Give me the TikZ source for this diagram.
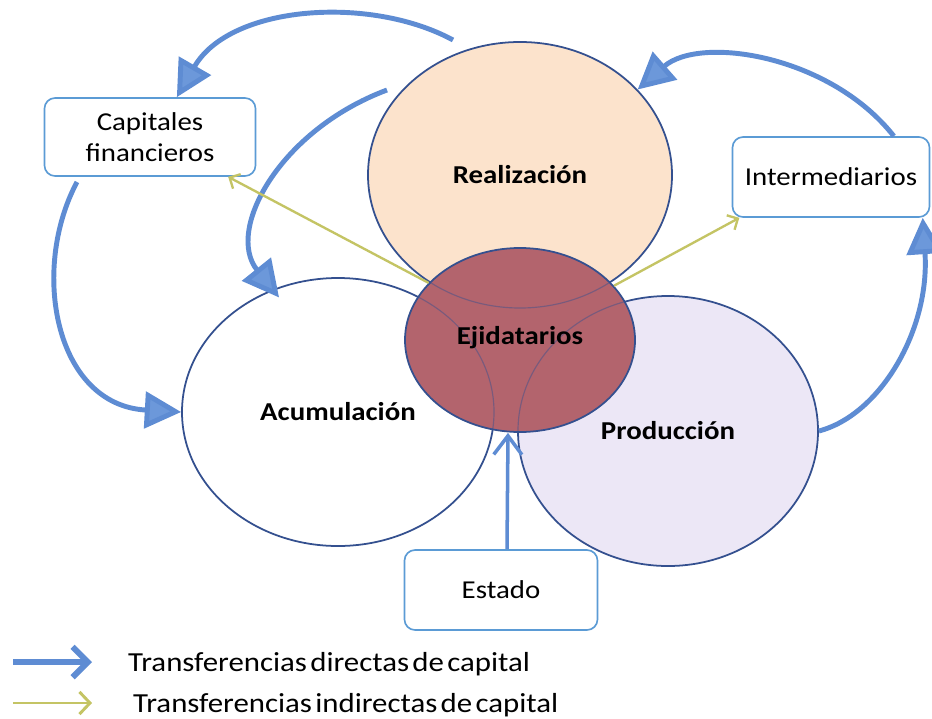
\documentclass[tikz,border=0pt]{standalone}
\usepackage{fontspec}
\setmainfont{Carlito}[FakeStretch=1.12]
\usetikzlibrary{shapes.geometric,arrows.meta}
\definecolor{cborder}{HTML}{34508F}
\definecolor{creal}{HTML}{FCE3CC}
\definecolor{cejid}{HTML}{B3646D}
\definecolor{cprod}{HTML}{ECE7F6}
\definecolor{cbox}{HTML}{5B9BD5}
\definecolor{cblue}{HTML}{5E8CD3}
\definecolor{chead}{HTML}{6C98DA}
\definecolor{cyel}{HTML}{C4C464}
\newcommand\mylegsp{\spaceskip=0.12em plus 0.05em\relax}
\begin{document}
\begin{tikzpicture}[x=0.03cm,y=-0.03cm,
  circ/.style={ellipse, draw=cborder, line width=1.5pt, inner sep=0pt,
    font=\fontsize{22}{26}\selectfont\bfseries},
  box/.style={draw=cbox, line width=1.4pt, rounded corners=9pt, fill=white,
    align=center, inner sep=0pt, font=\fontsize{22}{26}\selectfont},
  bigarrow/.style={draw=cblue, line width=4.2pt,
    -{Triangle[length=31pt,width=31pt,fill=chead]}},
  estarrow/.style={draw=cblue, line width=3pt,
    -{Straight Barb[length=16pt,width=24pt]}},
  yarrow/.style={draw=cyel, line width=2pt,
    -{Straight Barb[length=7pt,width=14pt]}},
  legtext/.style={anchor=west, inner sep=0pt, font=\fontsize{23.5}{28}\selectfont}
]
\useasboundingbox (0,0) rectangle (932,718);
\fill[white] (0,0) rectangle (932,718);

% circles
\node[circ, fill=creal, minimum width=9.12cm, minimum height=7.98cm] (real) at (520,175) {Realización};
\node[circ, fill=white, minimum width=9.36cm, minimum height=8.04cm] (acum) at (338,412) {Acumulación};
\node[circ, fill=cprod, minimum width=9.0cm, minimum height=8.1cm] (prod) at (668,431) {Producción};
\node[circ, fill=cejid, minimum width=6.9cm, minimum height=5.52cm] (ejid) at (520,340) {};
\begin{scope}
  \clip (520,340) ellipse [x radius=3.45cm, y radius=2.76cm];
  \draw[cborder, opacity=0.45, line width=1pt] (520,175) ellipse [x radius=4.56cm, y radius=3.99cm];
  \draw[cborder, opacity=0.45, line width=1pt] (338,412) ellipse [x radius=4.68cm, y radius=4.02cm];
  \draw[cborder, opacity=0.45, line width=1pt] (668,431) ellipse [x radius=4.5cm, y radius=4.05cm];
\end{scope}
\node[circ, draw=none] (ejidlabel) at (520,338) {Ejidatarios};

% boxes
\node[box, minimum width=6.33cm, minimum height=2.34cm] (cap) at (150,137) {Capitales\\financieros};
\node[box, minimum width=5.91cm, minimum height=2.4cm] (inter) at (831,177) {Intermediarios};
\node[box, minimum width=5.79cm, minimum height=2.4cm] (est) at (501,590) {Estado};

% free ends
\coordinate (a1s) at (453,40);
\coordinate (a2s) at (387,90);
\coordinate (a3s) at (77,182);

% direct transfers (blue)
\draw[bigarrow] (a1s) .. controls (370,-5) and (230,5) .. (cap.56);
\draw[bigarrow] (a2s) .. controls (280,130) and (225,230) .. ([shift={(4,9)}]acum.117);
\draw[bigarrow] (a3s) .. controls (30,270) and (55,405) .. (acum.west);
\draw[bigarrow] (prod.east) .. controls (880,415) and (930,330) .. (inter.-24);
\draw[bigarrow] (inter.33) .. controls (830,55) and (700,35) .. (real.36);
\draw[estarrow] ([xshift=0.18cm]est.north) -- ([xshift=-0.36cm]ejid.south);

% indirect transfers (yellow)
\draw[yarrow] (ejid.148) -- (cap.-27);
\draw[yarrow] (ejid.30) -- (inter.204);

% legend
\coordinate (l1a) at (13,662);
\coordinate (l1b) at (92,662);
\coordinate (l2a) at (13,703);
\coordinate (l2b) at (92,703);
\draw[draw=cblue, line width=5pt, -{Straight Barb[length=13pt,width=26pt]}] (l1a) -- (l1b);
\draw[draw=cyel, line width=2.5pt, -{Straight Barb[length=9pt,width=19pt]}] (l2a) -- (l2b);
\node[legtext] (leg1) at (128,664) {\mylegsp Transferencias directas de capital};
\node[legtext] (leg2) at (133,705) {\mylegsp Transferencias indirectas de capital};
\end{tikzpicture}
\end{document}
